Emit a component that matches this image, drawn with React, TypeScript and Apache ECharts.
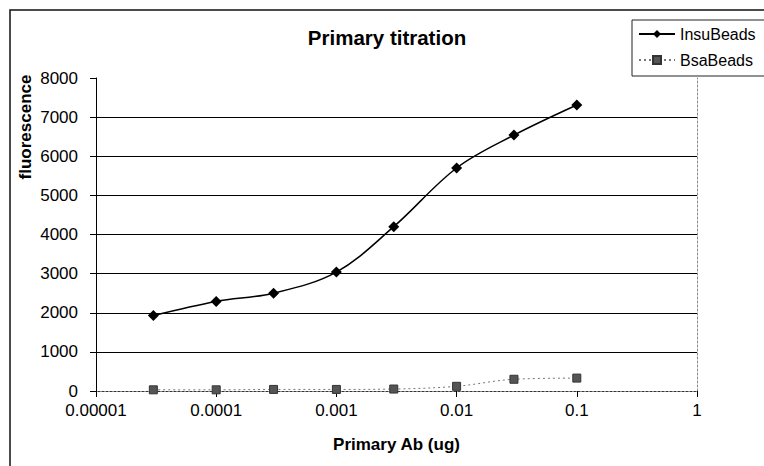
import React, { useEffect, useRef } from "react";
import * as echarts from "echarts";

const doses = [0.00003, 0.0001, 0.0003, 0.001, 0.003, 0.01, 0.03, 0.1];
const insuBeads = [1930, 2290, 2500, 3040, 4200, 5700, 6540, 7310];
const bsaBeads = [30, 30, 40, 40, 50, 120, 300, 330];
const seriesNames = ["InsuBeads", "BsaBeads"];
const titleText = "Primary titration";
const xAxisName = "Primary Ab (ug)";
const yAxisName = "fluorescence";

const FONT = "'Liberation Sans', Arial, sans-serif";

function fmtX(v: number): string {
  const e = Math.round(Math.log10(v));
  if (e >= 0) return String(Math.round(v));
  return v.toFixed(-e);
}

export default function App() {
  const ref = useRef<HTMLDivElement>(null);
  useEffect(() => {
    if (!ref.current) return;
    const chart = echarts.init(ref.current, undefined, { renderer: "svg" });
    const insu = doses.map((d, i) => [d, insuBeads[i]]);
    const bsa = doses.map((d, i) => [d, bsaBeads[i]]);
    chart.setOption({
      animation: false,
      backgroundColor: "#ffffff",
      textStyle: { fontFamily: FONT },
      grid: { left: 96, right: 67, top: 78, bottom: 75, containLabel: false, outerBoundsMode: "none" },
      graphic: [
        {
          type: "rect",
          shape: { x: 10, y: 10, width: 900, height: 600 },
          style: { fill: "none", stroke: "#111", lineWidth: 1.5 },
          silent: true,
        },
        {
          type: "rect",
          shape: { x: 632, y: 20, width: 300, height: 56 },
          style: { fill: "#fff", stroke: "#222", lineWidth: 1 },
          silent: true,
          z: 1,
        },
        {
          type: "text",
          x: 387,
          y: 37,
          style: {
            text: titleText,
            font: `bold 20.5px ${FONT}`,
            fill: "#000",
            align: "center",
            verticalAlign: "middle",
          },
        },
        {
          type: "text",
          x: 25,
          y: 127,
          rotation: Math.PI / 2,
          style: {
            text: yAxisName,
            font: `bold 17px ${FONT}`,
            fill: "#000",
            align: "center",
            verticalAlign: "middle",
          },
        },
      ],
      legend: {
        orient: "vertical",
        left: 638,
        top: 26,
        itemWidth: 36,
        itemHeight: 10,
        itemGap: 10,
        padding: 0,
        textStyle: { fontSize: 16, fontFamily: FONT, color: "#000", padding: [0, 0, 0, 0] },
        data: seriesNames,
        z: 10,
      },
      xAxis: [
        {
          type: "log",
          logBase: 10,
          min: 0.00001,
          max: 1,
          position: "bottom",
          name: xAxisName,
          nameLocation: "middle",
          nameGap: 45,
          nameTextStyle: { fontSize: 17, fontWeight: "bold", color: "#000", fontFamily: FONT },
          axisLine: { lineStyle: { color: "#000", width: 1 } },
          axisTick: { show: true, length: 6, lineStyle: { color: "#000" } },
          axisLabel: { fontSize: 17, color: "#000", margin: 11, formatter: (v: number) => fmtX(v) },
          splitLine: { show: false },
          minorTick: { show: false },
        },
        {
          type: "log",
          logBase: 10,
          min: 0.00001,
          max: 1,
          position: "top",
          axisLine: { lineStyle: { color: "#888", width: 1, type: [2, 2] } },
          axisTick: { show: false },
          axisLabel: { show: false },
          splitLine: { show: false },
        },
      ],
      yAxis: [
        {
          type: "value",
          min: 0,
          max: 8000,
          interval: 1000,
          axisLine: { show: true, lineStyle: { color: "#000", width: 1 } },
          axisTick: { show: true, length: 6, inside: false, lineStyle: { color: "#000" } },
          axisLabel: { fontSize: 17, color: "#000", margin: 18, formatter: (v: number) => String(v) },
          splitLine: { show: true, showMaxLine: false, lineStyle: { color: "#000", width: 1 } },
        },
        {
          type: "value",
          min: 0,
          max: 8000,
          interval: 1000,
          position: "right",
          axisLine: { show: true, lineStyle: { color: "#888", width: 1, type: [2, 2] } },
          axisTick: { show: false },
          axisLabel: { show: false },
          splitLine: { show: false },
        },
      ],
      series: [
        {
          name: seriesNames[0],
          type: "line",
          data: insu,
          smooth: 0.35,
          symbol: "diamond",
          symbolSize: 11,
          itemStyle: { color: "#000" },
          lineStyle: { color: "#000", width: 1.5 },
          z: 5,
        },
        {
          name: seriesNames[1],
          type: "line",
          data: bsa,
          smooth: 0.35,
          symbol: "rect",
          symbolSize: 8,
          itemStyle: { color: "#555", borderColor: "#333", borderWidth: 1 },
          lineStyle: { color: "#777", width: 1, type: [2, 3] },
          z: 4,
        },
      ],
    });
    return () => chart.dispose();
  }, []);
  return (
    <div
      ref={ref}
      style={{ position: "fixed", left: 0, top: 0, width: 764, height: 466 }}
    />
  );
}
